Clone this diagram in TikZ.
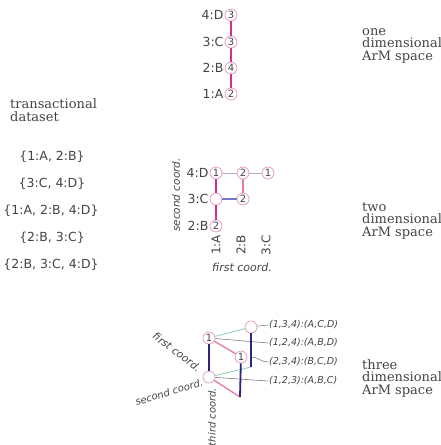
\documentclass[tikz,border=0pt]{standalone}
\usepackage{fontspec}
\setmainfont{DejaVu Serif}
\setsansfont{DejaVu Sans}
\usetikzlibrary{positioning}
\definecolor{txtgrey}{RGB}{68,68,68}
\definecolor{ringpink}{RGB}{228,150,185}
\definecolor{linkmag}{RGB}{214,48,138}
\definecolor{linkpink}{RGB}{232,122,168}
\definecolor{linklav}{RGB}{178,168,210}
\definecolor{linkblue}{RGB}{120,118,196}
\definecolor{axisblue}{RGB}{40,38,130}
\definecolor{linkteal}{RGB}{140,208,186}
\definecolor{leadgrey}{RGB}{125,125,125}
\begin{document}
\begin{tikzpicture}[x=1pt,y=-1pt,
  ring/.style={circle,draw=ringpink,fill=white,line width=0.7pt,minimum size=12pt,
    inner sep=0pt,font=\sffamily\fontsize{10}{10}\selectfont,text=txtgrey},
  item/.style={font=\sffamily\fontsize{12.5}{12.5}\selectfont,text=txtgrey,inner sep=1pt},
  coordtxt/.style={font=\sffamily\itshape\fontsize{11}{11}\selectfont,text=txtgrey,inner sep=0pt},
  tuple/.style={font=\sffamily\itshape\fontsize{9.5}{9.5}\selectfont,text=txtgrey,inner sep=1pt,anchor=west},
  spacetxt/.style={anchor=base west,align=left,inner sep=0pt,text=txtgrey,
    font=\fontsize{13}{12.5}\selectfont}]
  \useasboundingbox (0,0) rectangle (441,445);
  % Dataset (base = last line)
  \node[spacetxt] (data) at (10,121) {transactional\\dataset};
  \node[item] (t1) at (52,157) {\{1:A, 2:B\}};
  \node[item] (t2) at (52,184) {\{3:C, 4:D\}};
  \node[item] (t3) at (51,211) {\{1:A, 2:B, 4:D\}};
  \node[item] (t4) at (52,238) {\{2:B, 3:C\}};
  \node[item] (t5) at (51,265) {\{2:B, 3:C, 4:D\}};

  % One dimensional space
  \node[ring] (d1) at (231,15) {3};
  \node[ring] (c1) at (231,42) {3};
  \node[ring] (b1) at (231,68) {4};
  \node[ring] (a1) at (231,94) {2};
  \node[item,anchor=east] at (d1.west) {4:D};
  \node[item,anchor=east] at (c1.west) {3:C};
  \node[item,anchor=east] at (b1.west) {2:B};
  \node[item,anchor=east] at (a1.west) {1:A};
  \draw[linkmag,line width=1.5pt] (d1) -- (c1) -- (b1) -- (a1);
  \node[spacetxt] (one) at (362,60) {one\\dimensional\\ArM space};

  % Two dimensional space
  \node[ring] (dA) at (216,173) {1};
  \node[ring] (dB) at (243,173) {2};
  \node[ring] (dC) at (268,173) {1};
  \node[ring] (cA) at (216,199) {};
  \node[ring] (cB) at (243,199) {2};
  \node[ring] (bA) at (216,226) {2};
  \node[item,anchor=east] at (dA.west) {4:D};
  \node[item,anchor=east] at (cA.west) {3:C};
  \node[item,anchor=east] at (bA.west) {2:B};
  \draw[linkmag,line width=1.5pt] (dA) -- (cA) -- (bA);
  \draw[linklav,line width=1pt] (dA) -- (dB) -- (dC);
  \draw[linkpink,line width=1.1pt] (dB) -- (cB);
  \draw[linkblue,line width=1.1pt] (cA) -- (cB);
  \node[item,rotate=90,font=\sffamily\fontsize{12}{12}\selectfont] (colA) at (216,245) {1:A};
  \node[item,rotate=90,font=\sffamily\fontsize{12}{12}\selectfont] (colB) at (241,245) {2:B};
  \node[item,rotate=90,font=\sffamily\fontsize{12}{12}\selectfont] (colC) at (266,245) {3:C};
  \node[coordtxt] (first2) at (242,267) {first coord.};
  \node[coordtxt,rotate=90,font=\sffamily\itshape\fontsize{10.5}{10.5}\selectfont] (second2) at (176,195) {second coord.};
  \node[spacetxt] (two) at (362,236) {two\\dimensional\\ArM space};

  % Three dimensional space
  \node[ring] (p1) at (209,338) {1};
  \node[ring] (p2) at (251,327) {};
  \node[ring] (p3) at (241,357) {1};
  \node[ring] (p4) at (209,377) {};
  \coordinate (q2) at (251,367);
  \coordinate (r2) at (251,357);
  \coordinate (q3) at (240,397);
  \draw[linkteal,line width=0.8pt] (p1) -- (p2);
  \draw[linkteal,line width=0.8pt] (p4) -- (q2);
  \draw[linkpink,line width=1.3pt] (p1) -- (p3);
  \draw[linkpink,line width=1.3pt] (p4) -- (q3);
  \node[tuple] (u1) at (268,325) {(1,3,4):(A,C,D)};
  \node[tuple] (u2) at (268,343) {(1,2,4):(A,B,D)};
  \node[tuple] (u3) at (268,362) {(2,3,4):(B,C,D)};
  \node[tuple] (u4) at (268,381) {(1,2,3):(A,B,C)};
  \draw[leadgrey,line width=0.6pt] (p2) -- (u1.west);
  \draw[leadgrey,line width=0.6pt] (p1) -- (u2.west);
  \draw[leadgrey,line width=0.6pt] (r2) to[out=0,in=180] (u3.west);
  \draw[leadgrey,line width=0.6pt] (p4) -- (u4.west);
  \draw[axisblue,line width=1.8pt] (p1) -- (p4);
  \draw[axisblue,line width=1.8pt] (p2) -- (q2);
  \draw[axisblue,line width=1.8pt] (p3) -- (q3);
  \node[coordtxt,rotate=-37,font=\sffamily\itshape\fontsize{10.5}{10.5}\selectfont] (first3) at (177,352) {first coord.};
  \node[coordtxt,rotate=17,font=\sffamily\itshape\fontsize{10}{10}\selectfont] (second3) at (169,392) {second coord.};
  \node[coordtxt,rotate=90,font=\sffamily\itshape\fontsize{10}{10}\selectfont] (third3) at (212,417) {third coord.};
  \node[spacetxt] (three) at (362,394) {three\\dimensional\\ArM space};
\end{tikzpicture}
\end{document}
